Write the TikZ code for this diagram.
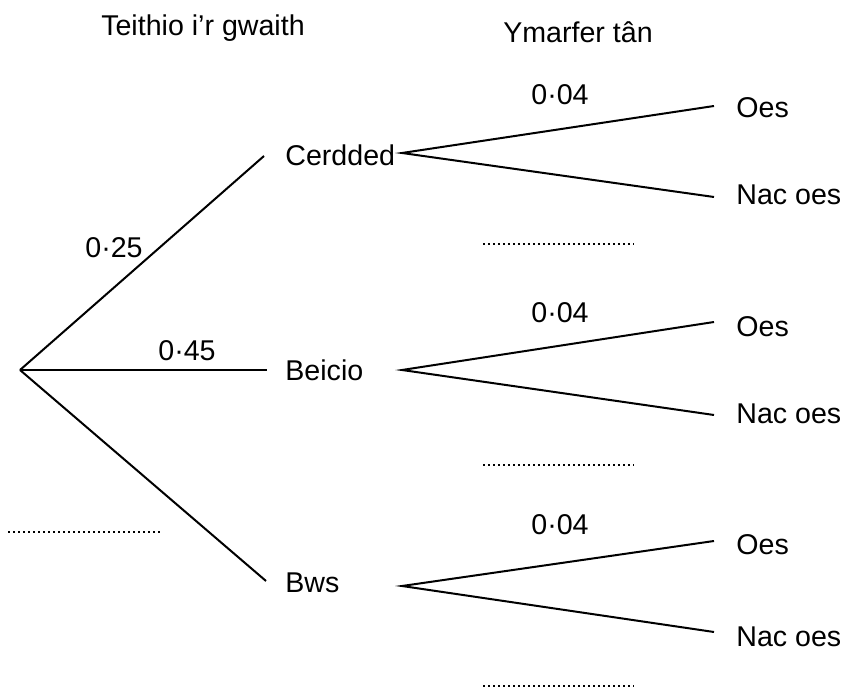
\documentclass[tikz,border=0pt]{standalone}
\usepackage{fontspec}
\setmainfont{Liberation Sans}
\begin{document}
\begin{tikzpicture}[x=0.5pt,y=-0.5pt,
  font=\fontsize{14.3}{17}\selectfont,
  br/.style={line width=1pt},
  dots/.style={line width=0.8pt, dash pattern=on 0.8pt off 1.7pt},
  lbl/.style={inner sep=0pt}]
\useasboundingbox (0,0) rectangle (845,688);
% titles
\node[lbl] (t1) at (203,28) {Teithio i’r gwaith};
\node[lbl] (t2) at (578,32) {Ymarfer tân};
% first stage
\coordinate (root) at (20,370);
\coordinate (ce) at (264,156);
\coordinate (be) at (267,370);
\coordinate (bw) at (266,581);
\node[lbl,anchor=west] (cer) at (285,155) {Cerdded};
\node[lbl,anchor=west] (bei) at (285,370) {Beicio};
\node[lbl,anchor=west] (bws) at (285,583) {Bws};
\draw[br] (root) -- (ce);
\draw[br] (root) -- (be);
\draw[br] (root) -- (bw);
\node[lbl] (p1) at (114,248) {0·25};
\node[lbl] (p2) at (187,351) {0·45};
\coordinate (d0a) at (8,532);
\coordinate (d0b) at (160,532);
\draw[dots] (d0a) -- (d0b);
% second stage
\foreach \i/\yb/\yo/\yn/\ylo/\yln/\yp/\yd in
  {1/153/106/197/108/195/95/244,
   2/370/322/415/327/414/313/465,
   3/586/541/632/545/637/525/686}{
  \coordinate (b\i) at (402,\yb);
  \coordinate (o\i) at (714,\yo);
  \coordinate (n\i) at (714,\yn);
  \draw[br] (o\i) -- (b\i) -- (n\i);
  \node[lbl,anchor=west] (oes\i) at (736,\ylo) {Oes};
  \node[lbl,anchor=west] (nac\i) at (736,\yln) {Nac oes};
  \node[lbl] (q\i) at (560,\yp) {0·04};
  \coordinate (da\i) at (483,\yd);
  \coordinate (db\i) at (634,\yd);
  \draw[dots] (da\i) -- (db\i);
}
\end{tikzpicture}
\end{document}
